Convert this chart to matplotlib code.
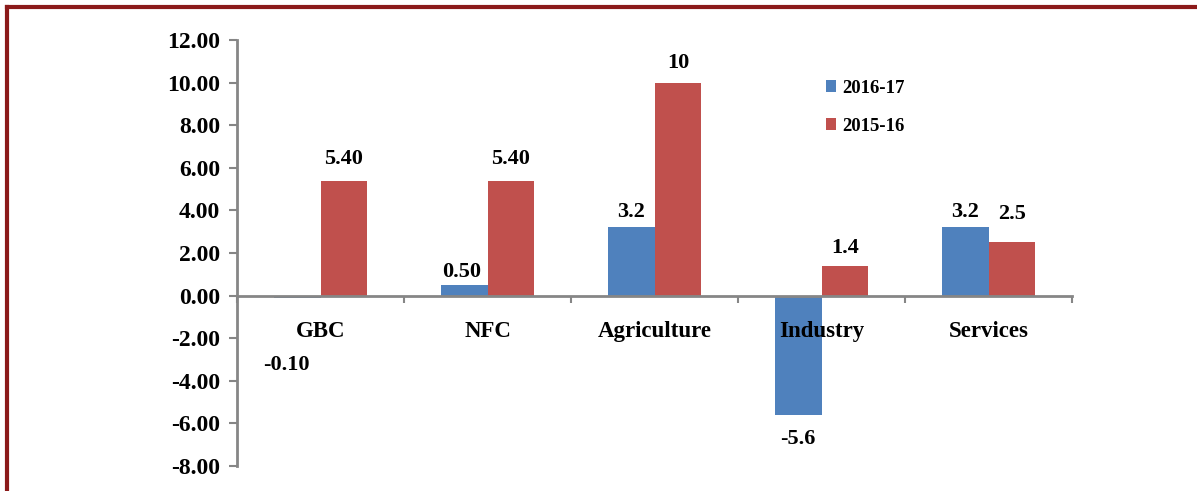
import matplotlib
matplotlib.use("Agg")
import matplotlib.pyplot as plt
import numpy as np
from matplotlib.lines import Line2D

categories = ["GBC", "NFC", "Agriculture", "Industry", "Services"]
series_names = ["2016-17", "2015-16"]
values_1617 = [-0.10, 0.50, 3.2, -5.6, 3.2]
values_1516 = [5.40, 5.40, 10, 1.4, 2.5]
labels_1617 = ["-0.10", "0.50", "3.2", "-5.6", "3.2"]
labels_1516 = ["5.40", "5.40", "10", "1.4", "2.5"]
yticks = [-8, -6, -4, -2, 0, 2, 4, 6, 8, 10, 12]

plt.rcParams['font.family'] = ['Liberation Serif', 'DejaVu Serif']
plt.rcParams['font.weight'] = 'bold'
FS_TICK = 17
FS_CAT = 16.5
FS_VAL = 16
FS_LEG = 13.5

blue = "#4F81BD"
red = "#C0504D"
axis_gray = "#868686"

fig = plt.figure(figsize=(11.97, 4.91), dpi=100)
ax = fig.add_axes([0.198, 0.0509, 0.8956 - 0.198, 0.9185 - 0.0509])
ax.set_axisbelow(False)

x = np.arange(len(categories))
w = 0.28
b1 = ax.bar(x - w / 2, values_1617, w, color=blue, label=series_names[0], zorder=2)
b2 = ax.bar(x + w / 2, values_1516, w, color=red, label=series_names[1], zorder=2)

for s in ['top', 'right']:
    ax.spines[s].set_visible(False)
ax.spines['left'].set_color(axis_gray)
ax.spines['left'].set_linewidth(2)
ax.spines['bottom'].set_position(('data', 0))
ax.spines['bottom'].set_color(axis_gray)
ax.spines['bottom'].set_linewidth(2)
ax.spines['bottom'].set_zorder(3)

ax.set_xlim(-0.5, len(categories) - 0.5)
ax.set_ylim(-8, 12)
ax.set_yticks(yticks)
ax.set_yticklabels([f"{v:.2f}" for v in yticks], fontsize=FS_TICK, fontweight='bold')
ax.set_xticks(x)
ax.set_xticklabels(categories, fontsize=FS_CAT, fontweight='bold')
ax.set_xticks(np.arange(-0.5, len(categories), 1.0), minor=True)
ax.tick_params(axis='x', which='major', length=0, pad=18)
ax.tick_params(axis='x', which='minor', length=5, width=1.5, color=axis_gray, direction='out')
ax.tick_params(axis='y', length=6, width=1.5, color=axis_gray, direction='out', pad=6)

# value labels (offsets in points)
off_1617 = [-41, 2, 4, -10, 4]
off_1516 = [8.5, 8.5, 7, 5.5, 13.5]
xoff_1617 = [-8, -2, 0, 0, 0]
for i in range(len(categories)):
    v = values_1617[i]
    va = 'bottom' if off_1617[i] > 0 else 'top'
    ax.annotate(labels_1617[i], (x[i] - w / 2, v), xytext=(xoff_1617[i], off_1617[i]),
                textcoords='offset points', ha='center', va=va,
                fontsize=FS_VAL, fontweight='bold')
    v = values_1516[i]
    ax.annotate(labels_1516[i], (x[i] + w / 2, v), xytext=(0, off_1516[i]),
                textcoords='offset points', ha='center', va='bottom',
                fontsize=FS_VAL, fontweight='bold')

leg = fig.legend(handles=[b1, b2], labels=series_names, loc='upper left',
                 bbox_to_anchor=(0.676, 0.872), frameon=False,
                 prop={'size': FS_LEG, 'weight': 'bold'},
                 handlelength=0.55, handleheight=0.55, handletextpad=0.3,
                 labelspacing=1.12)

# border
border = "#8B1A1A"
fig.add_artist(Line2D([7 / 1197, 1.0], [1 - 7 / 491, 1 - 7 / 491], transform=fig.transFigure,
                      color=border, lw=3))
fig.add_artist(Line2D([7 / 1197, 7 / 1197], [0, 1 - 7 / 491], transform=fig.transFigure,
                      color=border, lw=3))

fig.savefig("out.png", dpi=100)
